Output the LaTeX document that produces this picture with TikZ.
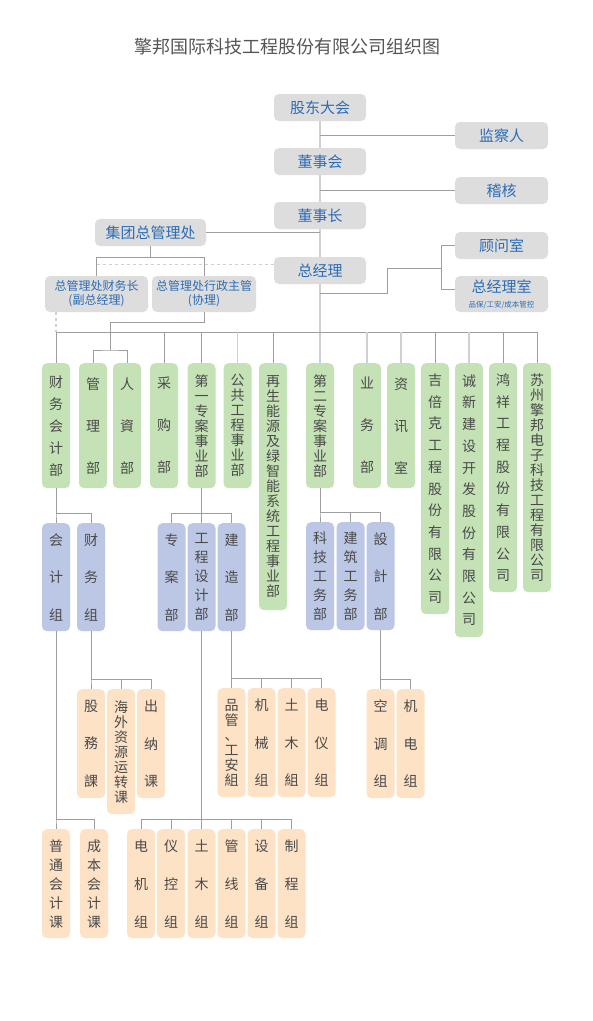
\documentclass[tikz,border=0pt]{standalone}
\usepackage{fontspec}
\setmainfont{Noto Sans CJK SC}
\usepackage{tikz}
\usetikzlibrary{calc}

\definecolor{boxgray}{HTML}{DDDDDD}
\definecolor{txtblue}{HTML}{2C6CB5}
\definecolor{grnfill}{HTML}{C4E2B5}
\definecolor{blufill}{HTML}{BCC7E5}
\definecolor{orgfill}{HTML}{FDE2C6}
\definecolor{txtgray}{HTML}{4A4A4A}
\definecolor{titlegray}{HTML}{555555}
\definecolor{linegray}{HTML}{9E9E9E}
\definecolor{softgray}{HTML}{D0D0D0}

\begin{document}
\begin{tikzpicture}[x=1pt, y=-1pt,
    topbox/.style={fill=boxgray, rounded corners=5pt, text=txtblue, minimum height=27pt,
        minimum width=92pt, inner sep=0pt, align=center, font=\fontsize{15}{18}\selectfont},
    vbox/.style={rounded corners=5pt, minimum width=28pt, inner sep=0pt, anchor=north,
        align=center, text=txtgray},
    lead/.style={font=\fontsize{14}{#1}\selectfont},
    grn/.style={vbox, fill=grnfill, minimum height=125pt},
    blu/.style={vbox, fill=blufill, minimum height=108pt},
    org/.style={vbox, fill=orgfill, minimum height=109pt},
    branch/.style={draw=linegray, line width=0.9pt},
    soft/.style={draw=softgray, line width=1.4pt},
    trunk/.style={draw=softgray, line width=2pt},
    dashline/.style={draw=softgray, line width=1.2pt, dashed}]

    \fill[white] (0,0) rectangle (593,1021);
    \useasboundingbox (0,0) rectangle (593,1021);

    % Title
    \node[font=\fontsize{18}{20}\selectfont, text=titlegray] (title) at (287.5,47) {擎邦国际科技工程股份有限公司组织图};

    % Top of the chart
    \node[topbox] (gd) at (320,107.5) {股东大会};
    \node[topbox, minimum width=93pt] (jcr) at (501.5,135.5) {监察人};
    \node[topbox] (dsh) at (320,161.5) {董事会};
    \node[topbox, minimum width=93pt] (jh) at (501.5,190.5) {稽核};
    \node[topbox] (dsz) at (320,215.5) {董事长};
    \node[topbox, minimum width=111pt] (jt) at (150.5,232.5) {集团总管理处};
    \node[topbox, minimum width=93pt] (gw) at (501.5,245.5) {顾问室};
    \node[topbox] (zjl) at (320,270.5) {总经理};
    \node[topbox, minimum width=93pt, minimum height=36pt] (zjs) at (501.5,294)
        {总经理室\\[-3pt]{\fontsize{7.5}{9}\selectfont 品保/工安/成本管控}};
    \node[topbox, minimum width=103pt, minimum height=36pt, font=\fontsize{12}{14}\selectfont] (cw) at (96.5,294)
        {总管理处财务长\\(副总经理)};
    \node[topbox, minimum width=104pt, minimum height=36pt, font=\fontsize{12}{14}\selectfont] (xz) at (204,294)
        {总管理处行政主管\\(协理)};

    % Departments
    \node[grn, lead=22] (cwkj) at (56,363) {财\\务\\会\\计\\部};
    \node[grn, lead=42] (gl) at (93,363) {管\\理\\部};
    \node[grn, lead=42] (rz) at (127,363) {人\\資\\部};
    \node[grn, lead=42] (cg) at (164,363) {采\\购\\部};
    \node[grn, lead=15] (ya) at (201.5,363) {第\\一\\专\\案\\事\\业\\部};
    \node[grn, lead=15] (gg) at (237.5,363) {公\\共\\工\\程\\事\\业\\部};
    \node[grn, lead=15, minimum height=247pt] (zs) at (273,363)
        {再\\生\\能\\源\\及\\绿\\智\\能\\系\\统\\工\\程\\事\\业\\部};
    \node[grn, lead=15] (eb) at (320,363) {第\\二\\专\\案\\事\\业\\部};
    \node[grn, lead=42] (yw) at (367,363) {业\\务\\部};
    \node[grn, lead=42] (zx) at (401,363) {资\\讯\\室};
    \node[grn, lead=21.7, minimum height=251pt] (jbk) at (435,363)
        {吉\\倍\\克\\工\\程\\股\\份\\有\\限\\公\\司};
    \node[grn, lead=21.7, minimum height=274pt] (cx) at (469,363)
        {诚\\新\\建\\设\\开\\发\\股\\份\\有\\限\\公\\司};
    \node[grn, lead=21.7, minimum height=229pt] (hx) at (503,363)
        {鸿\\祥\\工\\程\\股\\份\\有\\限\\公\\司};
    \node[grn, lead=15, minimum height=229pt] (sz) at (537,363)
        {苏\\州\\擎\\邦\\电\\子\\科\\技\\工\\程\\有\\限\\公\\司};

    % Sections
    \node[blu, lead=37.5] (kjz) at (56,523) {会\\计\\组};
    \node[blu, lead=37.5] (cwz) at (91,523) {财\\务\\组};
    \node[blu, lead=37.5] (zab) at (171.5,523) {专\\案\\部};
    \node[blu, lead=19] (sjb) at (201.5,523) {工\\程\\设\\计\\部};
    \node[blu, lead=37.5] (jzb) at (231.5,523) {建\\造\\部};
    \node[blu, lead=19] (kj) at (320,522) {科\\技\\工\\务\\部};
    \node[blu, lead=19] (jzg) at (350.5,522) {建\\筑\\工\\务\\部};
    \node[blu, lead=37.5] (sjs) at (380.5,522) {設\\計\\部};

    % Groups
    \node[org, lead=37.5] (gwk) at (91,689) {股\\務\\課};
    \node[org, lead=15, minimum height=125pt] (hw) at (121,689) {海\\外\\资\\源\\运\\转\\课};
    \node[org, lead=37.5] (cn) at (151,689) {出\\纳\\课};
    \node[org, lead=15] (pg) at (231.5,688) {品\\管\\、\\工\\安\\組};
    \node[org, lead=37.5] (jx) at (261.5,688) {机\\械\\组};
    \node[org, lead=37.5] (tm) at (291.5,688) {土\\木\\組};
    \node[org, lead=37.5] (dy) at (321.5,688) {电\\仪\\组};
    \node[org, lead=37.5] (kt) at (380.5,689) {空\\调\\组};
    \node[org, lead=37.5] (jd) at (410.5,689) {机\\电\\组};
    \node[org, lead=19] (pt) at (56,829) {普\\通\\会\\计\\课};
    \node[org, lead=19] (cb) at (94,829) {成\\本\\会\\计\\课};
    \node[org, lead=38] (dj) at (141,829) {电\\机\\组};
    \node[org, lead=38] (yk) at (171,829) {仪\\控\\组};
    \node[org, lead=38] (tm2) at (201.5,829) {土\\木\\组};
    \node[org, lead=38] (gx) at (231.5,829) {管\\线\\组};
    \node[org, lead=38] (sb) at (261.5,829) {设\\备\\组};
    \node[org, lead=38] (zc) at (291.5,829) {制\\程\\组};

    % Main line
    \draw[trunk] (gd) -- (dsh) (dsh) -- (dsz) (dsz) -- (zjl) (zjl) -- (eb);
    \draw[branch] (jcr.west -| gd.south) -- (jcr.west);
    \draw[branch] (jh.west -| dsh.south) -- (jh.west);
    \draw[branch] (jt) -- (jt -| dsz.south);
    \draw[branch] (jt.south) -- ++(0,11) -| (cw.north);
    \draw[branch] (jt.south) ++(0,11) -| (xz.north);
    \coordinate (dz) at ([yshift=6pt]zjl.west);
    \draw[dashline] (dz) -- (dz -| cw.north);

    % General manager's side offices
    \coordinate (zr) at ([yshift=-9pt]zjl.south);
    \draw[branch] (zr) -- ++(67,0) -- ++(0,-25) -- ++(55,0);
    \draw[branch] (gw.west) -- ++(-13,0) |- ([yshift=5pt]zjs.west);

    % Department bus
    \coordinate (bus) at (0,332);
    \draw[branch] (cwkj.north |- bus) -- (sz.north |- bus);
    \foreach \n in {cwkj,cg,ya,zs,hx,jbk,sz}
        \draw[branch] (\n.north |- bus) -- (\n.north);
    \foreach \n in {gg,yw,zx,cx}
        \draw[soft] (\n.north |- bus) -- (\n.north);
    \draw[dashline] (cw.south -| cwkj.north) -- (cwkj.north |- bus);

    \coordinate (glrz) at ($(gl.north)!.5!(rz.north)+(0,-13)$);
    \draw[branch] (xz.south) -- ++(0,10) -| (glrz);
    \draw[branch] (gl.north) |- (glrz) -| (rz.north);

    % Lower levels
    \foreach \p/\c in {cwkj/kjz, cwkj/cwz, ya/zab, ya/sjb, ya/jzb, eb/kj, eb/jzg, eb/sjs,
        cwz/gwk, cwz/hw, cwz/cn, jzb/pg, jzb/jx, jzb/tm, jzb/dy, sjs/kt, sjs/jd,
        kjz/pt, kjz/cb, sjb/dj, sjb/yk, sjb/tm2, sjb/gx, sjb/sb, sjb/zc}
        \draw[branch] (\p.south) |- ([yshift=10pt]\c.north) -- (\c.north);
\end{tikzpicture}
\end{document}
